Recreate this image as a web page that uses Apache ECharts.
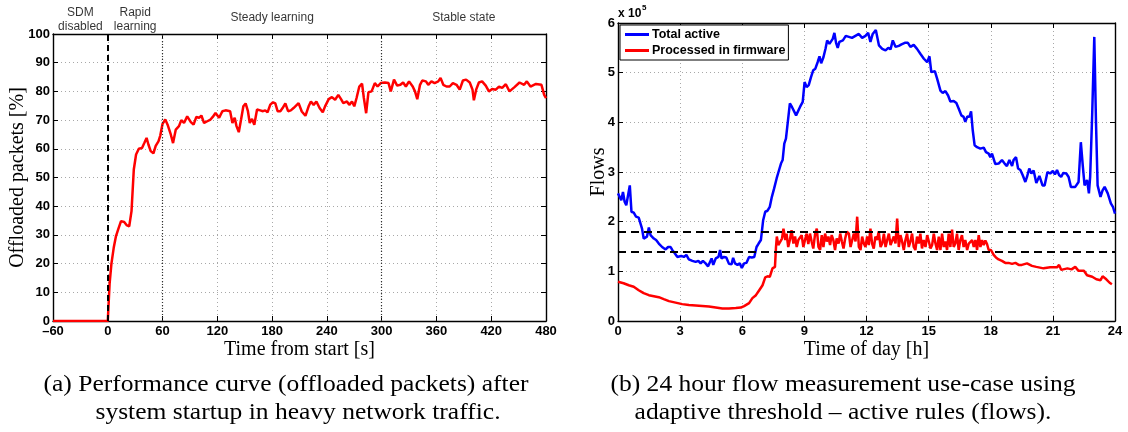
<!DOCTYPE html>
<html><head><meta charset="utf-8">
<script src="https://cdn.jsdelivr.net/npm/echarts@6/dist/echarts.min.js"></script>
<style>html,body{margin:0;padding:0;background:#fff}#c{width:1128px;height:432px}</style>
</head><body><div id="c"></div>
<script>
// ---------- (a) Performance curve ----------
const perfTime = [-60,0,2,4,6.5,9,11.5,14.5,18,21,23.5,26,28.5,31,34,37.5,40,42.5,44.5,47,50,52.5,55.5,57.5,60,63,65.5,69,71.5,74.5,78,80.5,83.5,87,91,94,97,100,102.5,105.5,109,112.5,115,118,122,125.5,129,134,136.5,139,141,143.5,146,148.5,151,153.5,155.5,158,160.5,163.5,167,170,172.5,175,178,181,183.5,186,189,191.5,194.5,197.5,200.5,203.5,209,212.5,216.5,220,222.5,225.5,228.5,232,235.5,238,242,245.5,249,252.5,255.5,258,262,264.5,267.5,270,272.5,275.5,278.5,280.5,283,285.5,289,292.5,295.5,299,303.5,307.5,310,313.5,317,320.5,323.5,326.5,330,334,336.5,339,342,344.5,348.5,351,354.5,358,362,364.5,367.5,371,374.5,378,382,385.5,389,392.5,396.5,399.5,401,403.5,406.5,410,414,417.5,421,425,428.5,432,436,440,445.5,451,456,459,463,469,475,478,480];
const perfOffload = [0,0,13,20,25.5,29.6,32,34.8,34.5,33.3,33,38.3,52.8,58,60,60.3,62,63.8,61.5,59.2,58.4,61,62.6,64.6,68.7,70.2,68.4,65,62,66.7,67.9,70,69,71.3,69.3,68.4,71.1,70.8,71.6,69,69.6,70.2,71.1,72.5,70.8,73.1,73.4,73.1,69,70.8,67.9,65.8,70.2,74.8,75.8,73.1,69,70.4,68.4,73.7,73.4,73.1,73.4,72.7,75.4,76.2,75.8,73.1,73.1,74.2,75.8,73.1,73.4,74.2,75.9,73,71.5,74.8,76.5,75.3,76.5,74.2,72.7,74.8,77.3,78,77.1,78.8,77.3,75.9,76.5,75.3,76.5,74.8,77.7,81.7,82.7,77.7,72.4,79.7,80,82.9,81.7,82.9,83.1,82.9,80,84.1,82,82.3,83.1,81.7,83.5,81.7,80,77.3,82.3,83.8,83.5,82.3,83.5,82.9,83.5,84.7,82.3,81.7,81.7,82.9,82.3,80.6,83.8,84.1,83.1,80.6,76.9,80.6,83.1,83.5,82,80,80.8,80.6,81.7,81.2,82.5,80,81.5,83.1,82.3,83.5,81.7,82.6,82.3,78.8,77.7];
const sdmStart = 0;
const phaseBounds = [60, 300];
const phaseCenters = [-30, 30, 180, 390];
const phaseNames = ['SDM\ndisabled', 'Rapid\nlearning', 'Steady learning', 'Stable state'];

// ---------- (b) 24 hour flow measurement (values in units of 10^5 flows) ----------
const activeHour = [0,0.16,0.24,0.32,0.4,0.48,0.57,0.65,0.76,0.87,1.0,1.08,1.16,1.24,1.32,1.4,1.49,1.57,1.65,1.73,1.84,1.97,2.13,2.3,2.42,2.54,2.62,2.75,2.86,2.94,3.05,3.18,3.3,3.42,3.59,3.75,3.88,3.99,4.1,4.23,4.35,4.44,4.52,4.6,4.72,4.85,4.93,5.0,5.12,5.23,5.36,5.48,5.56,5.65,5.77,5.88,5.98,6.09,6.2,6.33,6.46,6.58,6.69,6.79,6.9,7.01,7.11,7.22,7.33,7.43,7.54,7.66,7.75,7.87,7.95,8.03,8.11,8.19,8.3,8.4,8.48,8.6,8.69,8.79,8.92,9.01,9.11,9.21,9.32,9.43,9.53,9.64,9.73,9.81,9.92,10.02,10.1,10.21,10.29,10.37,10.45,10.53,10.61,10.69,10.86,11.0,11.3,11.63,11.79,11.95,12.08,12.19,12.3,12.45,12.6,12.76,12.92,13.05,13.16,13.27,13.4,13.56,13.69,13.85,14.0,14.12,14.28,14.44,14.6,14.77,14.93,15.04,15.13,15.3,15.41,15.57,15.68,15.81,15.94,16.05,16.21,16.34,16.45,16.58,16.69,16.77,16.87,16.97,17.05,17.13,17.22,17.34,17.5,17.66,17.77,17.9,17.98,18.06,18.22,18.38,18.54,18.67,18.78,18.9,19.03,19.1,19.22,19.32,19.43,19.54,19.67,19.75,19.86,19.96,20.07,20.2,20.35,20.5,20.6,20.74,20.87,21,21.1,21.2,21.3,21.4,21.5,21.65,21.76,21.87,22.08,22.24,22.35,22.45,22.53,22.65,22.74,22.8,22.9,23.0,23.08,23.16,23.3,23.4,23.5,23.65,23.74,23.8,23.9,24];
const totalActive = [2.57,2.43,2.6,2.4,2.33,2.33,2.73,2.2,2.18,2.1,2.08,2.11,1.86,1.66,1.63,1.7,1.88,1.73,1.76,1.66,1.63,1.56,1.49,1.44,1.49,1.49,1.43,1.36,1.29,1.28,1.31,1.29,1.33,1.24,1.21,1.19,1.21,1.16,1.21,1.16,1.1,1.14,1.26,1.13,1.26,1.29,1.43,1.26,1.29,1.28,1.15,1.14,1.27,1.16,1.13,1.16,1.07,1.16,1.17,1.29,1.28,1.29,1.49,1.56,1.63,2.03,2.2,2.22,2.3,2.5,2.67,2.87,3.0,3.17,3.24,3.57,3.67,3.97,4.38,4.31,4.32,4.14,4.16,4.31,4.41,4.81,4.71,4.75,4.91,5.05,5.08,5.21,5.33,5.19,5.31,5.48,5.65,5.58,5.62,5.68,5.8,5.6,5.5,5.62,5.65,5.74,5.7,5.78,5.7,5.74,5.8,5.62,5.78,5.86,5.55,5.48,5.45,5.5,5.47,5.65,5.52,5.54,5.57,5.6,5.6,5.52,5.56,5.48,5.38,5.28,5.21,5.33,5.01,5.03,4.88,4.64,4.59,4.63,4.54,4.42,4.43,4.39,4.28,4.14,4.11,4.01,4.12,4.11,4.22,3.84,3.54,3.5,3.47,3.49,3.4,3.37,3.3,3.37,3.16,3.17,3.24,3.17,3.12,3.24,3.12,3.24,3.3,3.07,3.04,2.94,2.8,2.9,3.07,2.97,3.03,2.78,2.92,2.73,2.73,3.0,2.97,3.02,2.95,3.04,2.94,2.9,2.98,2.97,2.9,2.7,2.7,2.8,3.6,3.1,2.73,2.84,2.57,2.9,4.18,5.72,4.04,2.73,2.5,2.63,2.7,2.57,2.6,2.37,2.3,2.16];
const firmwareHour = [0,0.27,0.52,0.76,1.0,1.24,1.49,1.73,1.97,2.21,2.46,2.78,3.1,3.42,3.75,4.07,4.39,4.72,5.04,5.36,5.69,5.93,6.09,6.33,6.49,6.66,6.82,6.98,7.11,7.22,7.33,7.46,7.58,7.63,7.67,7.74,7.82,7.92,7.99,8.08,8.14,8.22,8.3,8.38,8.47,8.55,8.63,8.71,8.79,8.87,8.95,9.03,9.11,9.19,9.27,9.35,9.43,9.52,9.6,9.68,9.76,9.84,9.92,10.0,10.08,10.16,10.24,10.32,10.4,10.48,10.56,10.65,10.73,10.81,10.89,10.97,11.05,11.15,11.23,11.31,11.39,11.47,11.55,11.63,11.71,11.79,11.87,11.95,12.03,12.11,12.19,12.27,12.35,12.43,12.51,12.59,12.68,12.76,12.84,12.92,13.0,13.08,13.16,13.24,13.32,13.4,13.48,13.56,13.64,13.72,13.8,13.88,13.96,14.04,14.12,14.2,14.28,14.36,14.44,14.52,14.6,14.68,14.76,14.85,14.93,15.01,15.09,15.17,15.25,15.33,15.41,15.49,15.57,15.65,15.73,15.81,15.89,15.97,16.05,16.13,16.21,16.29,16.37,16.45,16.53,16.61,16.69,16.77,16.86,16.94,17.02,17.1,17.18,17.26,17.34,17.42,17.5,17.58,17.66,17.74,17.82,17.9,18.01,18.14,18.25,18.38,18.54,18.7,18.86,19.03,19.19,19.35,19.5,19.75,19.99,20.2,20.55,20.87,21.2,21.3,21.4,21.7,21.9,22.08,22.24,22.5,22.65,22.9,23.1,23.3,23.4,23.58,23.74,23.85];
const firmware = [0.79,0.76,0.72,0.69,0.62,0.56,0.52,0.5,0.48,0.44,0.4,0.37,0.34,0.32,0.31,0.3,0.29,0.27,0.25,0.25,0.26,0.27,0.3,0.36,0.46,0.52,0.62,0.72,0.88,0.9,0.89,1.06,1.09,1.49,1.7,1.53,1.49,1.66,1.86,1.63,1.76,1.49,1.63,1.83,1.56,1.7,1.49,1.63,1.6,1.73,1.49,1.63,1.76,1.55,1.76,1.6,1.46,1.76,1.86,1.49,1.43,1.73,1.49,1.76,1.6,1.7,1.53,1.73,1.63,1.43,1.66,1.56,1.76,1.6,1.46,1.66,1.8,1.76,1.49,1.63,1.76,1.6,2.1,1.49,1.43,1.7,1.56,1.49,1.7,1.53,1.86,1.56,1.46,1.7,1.63,1.8,1.49,1.56,1.76,1.49,1.63,1.76,1.53,1.49,1.7,1.56,2.06,1.49,1.73,1.6,1.43,1.63,1.76,1.49,1.6,1.76,1.49,1.43,1.7,1.56,1.76,1.46,1.63,1.49,1.73,1.6,1.46,1.53,1.76,1.56,1.43,1.7,1.43,1.76,1.49,1.6,1.43,1.76,1.49,1.84,1.49,1.56,1.76,1.43,1.63,1.73,1.49,1.63,1.43,1.56,1.53,1.63,1.49,1.63,1.43,1.73,1.49,1.63,1.53,1.62,1.55,1.43,1.43,1.33,1.28,1.24,1.21,1.17,1.17,1.15,1.17,1.13,1.13,1.16,1.11,1.09,1.06,1.08,1.08,1.13,1.03,1.06,1.04,1.09,1.01,1.01,0.92,0.89,0.84,0.82,0.9,0.84,0.77,0.74];
const thresholds = [1.8, 1.4];
const seriesNames = ['Total active', 'Processed in firmware'];
const captions = [
  '(a) Performance curve (offloaded packets) after',
  'system startup in heavy network traffic.',
  '(b) 24 hour flow measurement use-case using',
  'adaptive threshold \u2013 active rules (flows).'
];

const zip = (a, b) => a.map((v, i) => [v, b[i]]);
const TICK_FONT = 'Liberation Sans';
const SERIF = 'Liberation Serif';

function axisX(grid, min, max, interval, name, top) {
  return {
    type: 'value', gridIndex: grid, min, max, interval,
    position: top ? 'top' : 'bottom',
    axisLine: { show: true, onZero: false, lineStyle: { color: '#000', width: 1.4 } },
    axisTick: { show: true, inside: true, length: 5, lineStyle: { color: '#000', width: 1 } },
    axisLabel: top ? { show: false } : {
      show: true, color: '#000', fontFamily: TICK_FONT, fontWeight: 'bold', fontSize: 13, margin: 4,
      formatter: v => (v < 0 ? '\u2013' + (-v) : '' + v)
    },
    splitLine: top ? { show: false } : { show: true, lineStyle: { color: '#a8a8a8', type: [1, 3], width: 1 } },
    name: top ? '' : name, nameLocation: 'middle', nameGap: 19, nameMoveOverlap: false,
    nameTextStyle: { fontFamily: SERIF, fontSize: 20, color: '#000' }
  };
}
function axisY(grid, min, max, interval, name, right, nameGap) {
  return {
    type: 'value', gridIndex: grid, min, max, interval,
    position: right ? 'right' : 'left',
    axisLine: { show: true, onZero: false, lineStyle: { color: '#000', width: 1.4 } },
    axisTick: { show: true, inside: true, length: 5, lineStyle: { color: '#000', width: 1 } },
    axisLabel: right ? { show: false } : {
      show: true, color: '#000', fontFamily: TICK_FONT, fontWeight: 'bold', fontSize: 13, margin: 3
    },
    splitLine: right ? { show: false } : { show: true, lineStyle: { color: '#a8a8a8', type: [1, 3], width: 1 } },
    name: right ? '' : name, nameLocation: 'middle', nameGap: nameGap || 27, nameMoveOverlap: false,
    nameTextStyle: { fontFamily: SERIF, fontSize: 20, color: '#000' }
  };
}
function caption(text, x, y) {
  return { type: 'text', x, y, scaleX: 1.11, style: { text, font: '23px "Liberation Serif"', fill: '#000', align: 'center', verticalAlign: 'middle' } };
}

const chart = echarts.init(document.getElementById('c'), null, { renderer: 'canvas' });
const option = {
  backgroundColor: '#fff',
  animation: false,
  grid: [
    { left: 53, top: 34, width: 493, height: 287 },
    { left: 618, top: 23, width: 497, height: 298 }
  ],
  xAxis: [
    axisX(0, -60, 480, 60, 'Time from start [s]', false),
    axisX(0, -60, 480, 60, '', true),
    axisX(1, 0, 24, 3, 'Time of day [h]', false),
    axisX(1, 0, 24, 3, '', true)
  ],
  yAxis: [
    axisY(0, 0, 100, 10, 'Offloaded packets [%]', false, 25),
    axisY(0, 0, 100, 10, '', true),
    axisY(1, 0, 6, 1, 'Flows', false, 9),
    axisY(1, 0, 6, 1, '', true)
  ],
  legend: {
    data: seriesNames.map(n => ({ name: n, icon: 'rect' })),
    orient: 'vertical', left: 620, top: 25,
    backgroundColor: '#fff', borderColor: '#000', borderWidth: 1,
    padding: [2, 3, 2, 5], itemGap: 1, itemWidth: 24, itemHeight: 3,
    textStyle: { fontFamily: TICK_FONT, fontWeight: 'bold', fontSize: 12.5, color: '#000', lineHeight: 15, padding: [0, 0, 0, -2] }
  },
  series: [
    {
      type: 'line', name: 'offloaded', xAxisIndex: 0, yAxisIndex: 0,
      data: zip(perfTime, perfOffload), showSymbol: false, symbol: 'none',
      lineStyle: { color: '#ff0000', width: 2.5 }, itemStyle: { color: '#ff0000' },
      markLine: {
        silent: true, symbol: 'none', label: { show: false },
        data: [
          { xAxis: sdmStart, lineStyle: { color: '#000', type: [6, 4], width: 2 } },
          ...phaseBounds.map(x => ({ xAxis: x, lineStyle: { color: '#333', type: [1, 2], width: 1.2 } }))
        ]
      }
    },
    {
      type: 'scatter', name: 'phases', xAxisIndex: 0, yAxisIndex: 0,
      data: phaseCenters.map((x, i) => ({
        value: [x, 100],
        label: { distance: phaseNames[i].includes('\n') ? 0 : 9 }
      })),
      symbolSize: 0, silent: true, clip: false,
      label: {
        show: true, position: 'top', color: '#000', fontFamily: TICK_FONT, fontSize: 12, lineHeight: 14,
        align: 'center', formatter: p => phaseNames[p.dataIndex]
      }
    },
    {
      type: 'line', name: seriesNames[0], xAxisIndex: 2, yAxisIndex: 2,
      data: zip(activeHour, totalActive), showSymbol: false, symbol: 'none',
      lineStyle: { color: '#0000ff', width: 2.5 }, itemStyle: { color: '#0000ff' }
    },
    {
      type: 'line', name: seriesNames[1], xAxisIndex: 2, yAxisIndex: 2,
      data: zip(firmwareHour, firmware), showSymbol: false, symbol: 'none',
      lineStyle: { color: '#ff0000', width: 2.5 }, itemStyle: { color: '#ff0000' },
      markLine: {
        silent: true, symbol: 'none', label: { show: false },
        lineStyle: { color: '#000', type: [8, 5], width: 2 },
        data: thresholds.map(t => ({ yAxis: t }))
      }
    }
  ],
  graphic: [
    { type: 'text', left: 618, top: 8, style: { text: 'x 10', font: 'bold 12px "Liberation Sans"', fill: '#000' } },
    { type: 'text', left: 642, top: 4, style: { text: '5', font: 'bold 8px "Liberation Sans"', fill: '#000' } },
    caption(captions[0], 286, 385),
    caption(captions[1], 298, 413),
    caption(captions[2], 843, 385),
    caption(captions[3], 843, 413)
  ]
};
chart.setOption(option);
</script>
</body></html>
